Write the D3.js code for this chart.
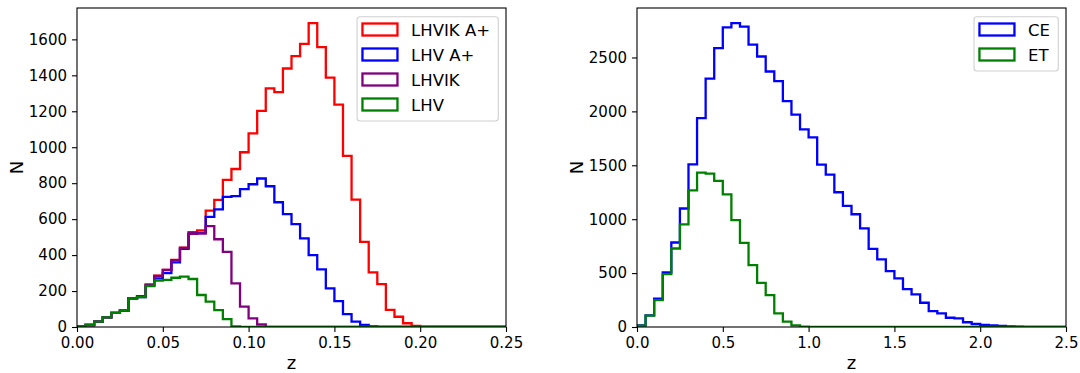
<!DOCTYPE html>
<html>
<head>
<meta charset="utf-8">
<script src="https://cdn.jsdelivr.net/npm/d3@7"></script>
<style>
  body { margin: 0; background: #fff; }
  text { font-family: "DejaVu Sans", sans-serif; fill: #000; }
</style>
</head>
<body>
<svg id="chart" width="1080" height="373"></svg>
<script>
// ---- data (counts per bin, 50 bins each) ----
const nBins = 50;
const leftBinWidth = 0.005;
const rightBinWidth = 0.05;

const lhvikAplus = [3, 11, 30, 54, 79, 91, 160, 172, 236, 285, 318, 373, 441, 527, 538, 647, 707, 818, 879, 972,
  1077, 1202, 1327, 1306, 1438, 1507, 1575, 1690, 1557, 1387, 1237, 952, 709, 474, 304, 239, 95, 57, 21, 6,
  0, 0, 0, 0, 0, 0, 0, 0, 0, 0];
const lhvAplus = [3, 11, 30, 54, 79, 91, 159, 167, 229, 270, 300, 360, 435, 519, 524, 613, 654, 724, 728, 767,
  794, 826, 783, 694, 628, 572, 493, 400, 320, 215, 144, 72, 30, 11, 3, 0, 0, 0, 0, 0,
  0, 0, 0, 0, 0, 0, 0, 0, 0, 0];
const lhvik = [3, 11, 30, 54, 79, 91, 160, 172, 235, 284, 317, 372, 440, 518, 520, 561, 488, 418, 243, 113,
  48, 14, 0, 0, 0, 0, 0, 0, 0, 0, 0, 0, 0, 0, 0, 0, 0, 0, 0, 0,
  0, 0, 0, 0, 0, 0, 0, 0, 0, 0];
const lhv = [3, 11, 30, 54, 79, 91, 159, 166, 228, 258, 262, 274, 280, 267, 178, 141, 94, 44, 3, 0,
  0, 0, 0, 0, 0, 0, 0, 0, 0, 0, 0, 0, 0, 0, 0, 0, 0, 0, 0, 0,
  0, 0, 0, 0, 0, 0, 0, 0, 0, 0];

const ce = [15, 108, 262, 506, 784, 1099, 1509, 1938, 2303, 2586, 2780, 2818, 2787, 2620, 2509, 2370, 2281, 2095, 1969, 1833,
  1759, 1506, 1414, 1250, 1123, 1046, 914, 725, 627, 519, 451, 352, 303, 225, 148, 127, 86, 80, 44, 28,
  19, 14, 10, 6, 3, 1, 0, 0, 0, 0];
const et = [12, 105, 250, 491, 728, 951, 1268, 1432, 1423, 1355, 1231, 991, 781, 574, 410, 296, 127, 49, 15, 3,
  0, 0, 0, 0, 0, 0, 0, 0, 0, 0, 0, 0, 0, 0, 0, 0, 0, 0, 0, 0,
  0, 0, 0, 0, 0, 0, 0, 0, 0, 0];

const leftXTicks = [0, 0.05, 0.10, 0.15, 0.20, 0.25];
const leftYTicks = [0, 200, 400, 600, 800, 1000, 1200, 1400, 1600];
const rightXTicks = [0, 0.5, 1.0, 1.5, 2.0, 2.5];
const rightYTicks = [0, 500, 1000, 1500, 2000, 2500];

const leftSeries = [
  { name: "LHVIK A+", color: "#ff0000", values: lhvikAplus },
  { name: "LHV A+", color: "#0000ff", values: lhvAplus },
  { name: "LHVIK", color: "#800080", values: lhvik },
  { name: "LHV", color: "#008000", values: lhv }
];
const rightSeries = [
  { name: "CE", color: "#0000ff", values: ce },
  { name: "ET", color: "#008000", values: et }
];

const svg = d3.select("#chart");

function drawPanel(p) {
  const x = d3.scaleLinear().domain([0, p.binWidth * nBins]).range([p.left, p.right]);
  const yMax = d3.max(p.series, s => d3.max(s.values)) * 1.05;
  const y = d3.scaleLinear().domain([0, yMax]).range([p.bottom, p.top]);

  const g = svg.append("g");

  // clip
  svg.append("clipPath").attr("id", p.id)
    .append("rect")
    .attr("x", p.left).attr("y", p.top)
    .attr("width", p.right - p.left).attr("height", p.bottom - p.top);

  // histogram outlines (step)
  const line = d3.line().x(d => x(d[0])).y(d => y(d[1]));
  p.series.forEach(s => {
    const pts = [[0, 0]];
    s.values.forEach((v, i) => {
      pts.push([i * p.binWidth, v]);
      pts.push([(i + 1) * p.binWidth, v]);
    });
    pts.push([nBins * p.binWidth, 0]);
    g.append("path")
      .attr("d", line(pts))
      .attr("fill", "none")
      .attr("stroke", s.color)
      .attr("stroke-width", 2.3)
      .attr("stroke-linejoin", "miter")
      .attr("clip-path", `url(#${p.id})`);
  });

  // axes
  const xAxis = d3.axisBottom(x).tickValues(p.xTicks).tickFormat(p.xFmt)
    .tickSizeInner(5).tickSizeOuter(0).tickPadding(5);
  const yAxis = d3.axisLeft(y).tickValues(p.yTicks).tickFormat(d3.format("d"))
    .tickSizeInner(5).tickSizeOuter(0).tickPadding(5);

  const xg = g.append("g").attr("transform", `translate(0,${p.bottom})`).call(xAxis);
  const yg = g.append("g").attr("transform", `translate(${p.left},0)`).call(yAxis);
  [xg, yg].forEach(a => {
    a.select(".domain").remove();
    a.selectAll("line").attr("stroke", "#000").attr("stroke-width", 1.1);
    a.selectAll("text").style("font-size", "15px").attr("fill", "#000");
    a.attr("font-family", null);
  });

  // frame
  g.append("rect")
    .attr("x", p.left).attr("y", p.top)
    .attr("width", p.right - p.left).attr("height", p.bottom - p.top)
    .attr("fill", "none").attr("stroke", "#000").attr("stroke-width", 1.1);

  // labels
  g.append("text")
    .attr("x", (p.left + p.right) / 2).attr("y", 368.5)
    .attr("text-anchor", "middle").style("font-size", "18px")
    .text("z");
  g.append("text")
    .attr("transform", `translate(${p.left - 54.3},${(p.top + p.bottom) / 2}) rotate(-90)`)
    .attr("text-anchor", "middle").style("font-size", "18px")
    .text("N");

  // legend
  const lg = g.append("g");
  const box = lg.append("rect");
  const rowTop = p.top + 8.7;
  const texts = [];
  p.series.forEach((s, i) => {
    const cy = rowTop + 12.8 + 25 * i;
    lg.append("rect")
      .attr("data-row", i)
      .attr("y", cy - 6).attr("width", 35).attr("height", 12)
      .attr("fill", "none").attr("stroke", s.color).attr("stroke-width", 2.3);
    texts.push(lg.append("text")
      .attr("y", cy + 6).style("font-size", "16.5px").text(s.name));
  });
  const tw = d3.max(texts, t => t.node().getComputedTextLength());
  const boxW = 5.4 + 35 + 13.6 + tw + 8.3;
  const boxL = p.right - 7.7 - boxW;
  lg.selectAll("rect[data-row]").attr("x", boxL + 5.4);
  texts.forEach(t => t.attr("x", boxL + 5.4 + 35 + 13.6));
  const boxH = 12.8 + 25 * (p.series.length - 1) + 16.5;
  box.attr("x", boxL).attr("y", rowTop).attr("width", boxW).attr("height", boxH)
    .attr("rx", 3).attr("ry", 3)
    .attr("fill", "#fff").attr("fill-opacity", 0.8)
    .attr("stroke", "#d0d0d0").attr("stroke-width", 1.1);
}

drawPanel({
  id: "clipL", left: 77, right: 506, top: 8, bottom: 327,
  binWidth: leftBinWidth, series: leftSeries,
  xTicks: leftXTicks, xFmt: d3.format(".2f"), yTicks: leftYTicks
});
drawPanel({
  id: "clipR", left: 637, right: 1066, top: 8, bottom: 327,
  binWidth: rightBinWidth, series: rightSeries,
  xTicks: rightXTicks, xFmt: d3.format(".1f"), yTicks: rightYTicks
});
</script>
</body>
</html>
